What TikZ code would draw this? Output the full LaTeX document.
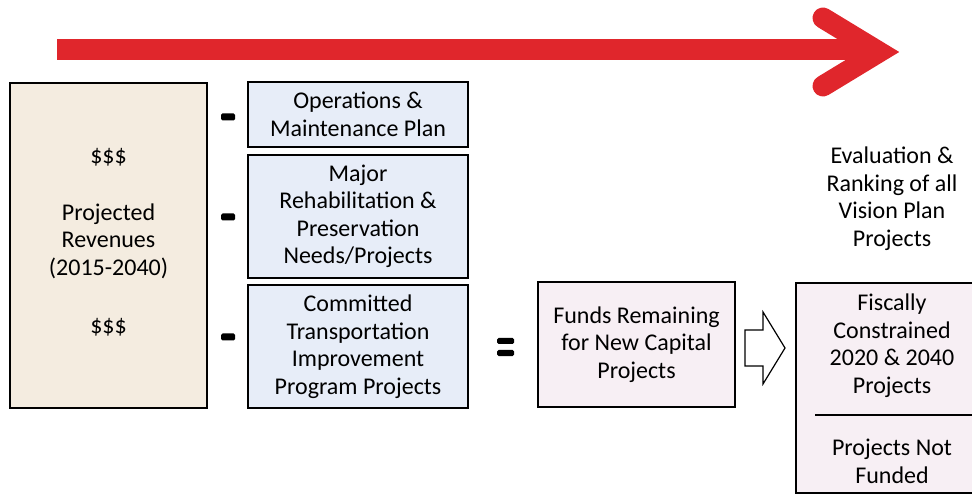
\documentclass[tikz,border=0pt]{standalone}
\usepackage{fontspec}
\setmainfont{Carlito}
\usepackage{xcolor}
\usepackage{tikz}
\usetikzlibrary{positioning}

\definecolor{trendred}{HTML}{E0262C}
\definecolor{revfill}{HTML}{F4ECE0}
\definecolor{costfill}{HTML}{E7EDF8}
\definecolor{fundfill}{HTML}{F7EFF4}

\begin{document}
\begin{tikzpicture}[x=1pt, y=-1pt,
  txt/.style={align=center,inner sep=0pt,font=\fontsize{24}{27.5}\selectfont},
  box/.style={txt,draw,line width=1.6pt},
  revbox/.style={box,fill=revfill,minimum width=197pt,minimum height=325pt},
  costbox/.style={box,fill=costfill,minimum width=220pt},
  fundbox/.style={box,fill=fundfill},
  sign/.style={fill=black,rounded corners=1.5pt}]
  \useasboundingbox (0,0) rectangle (972,494);
  %--- time arrow ---
  \draw[trendred,line width=21pt] (57,50) -- (860,50);
  \draw[trendred,line width=21pt,line cap=round,line join=miter] (823,18) -- (879,52) -- (823,86);
  %--- revenues ---
  \node[revbox] (rev) at (108.5,245.5) {};
  \node[txt] (d1) at (108.5,157) {\$\$\$};
  \node[txt] (rtxt) at (108.5,241) {Projected\\Revenues\\(2015-2040)};
  \node[txt] (d2) at (108.5,327) {\$\$\$};
  %--- deductions ---
  \node[costbox,minimum height=65pt] (om) at (358,114.5) {Operations \&\\Maintenance Plan};
  \node[costbox,minimum height=123pt] (rehab) at (358,216.5) {Major\\Rehabilitation \&\\Preservation\\Needs/Projects};
  \node[costbox,minimum height=123pt] (tip) at (358,346.5) {Committed\\Transportation\\Improvement\\Program Projects};
  \foreach \y in {117,217,337}
    \fill[sign] (221,\y-3.5) rectangle (235,\y+3.5);
  %--- equals ---
  \fill[sign] (497,338) rectangle (514,344);
  \fill[sign] (497,350) rectangle (514,356);
  %--- remaining funds ---
  \node[fundbox,minimum width=197pt,minimum height=125pt] (funds) at (636.5,344.5) {Funds Remaining\\for New Capital\\Projects};
  \draw[line width=1.2pt,fill=white] (745,330) -- (763,330) -- (763,312) -- (785,348)
    -- (763,384) -- (763,366) -- (745,366) -- cycle;
  %--- ranking ---
  \node[txt] (eval) at (892,198.5) {Evaluation \&\\Ranking of all\\Vision Plan\\Projects};
  \node[fundbox,minimum width=195pt,minimum height=210pt,anchor=north west] (ranked) at (795,282) {};
  \node[txt] (fc) at (892,345.5) {Fiscally\\Constrained\\2020 \& 2040\\Projects};
  \draw[line width=1.6pt] (815,415) -- (990,415);
  \node[txt] (nf) at (892,461.5) {Projects Not\\Funded};
\end{tikzpicture}
\end{document}
